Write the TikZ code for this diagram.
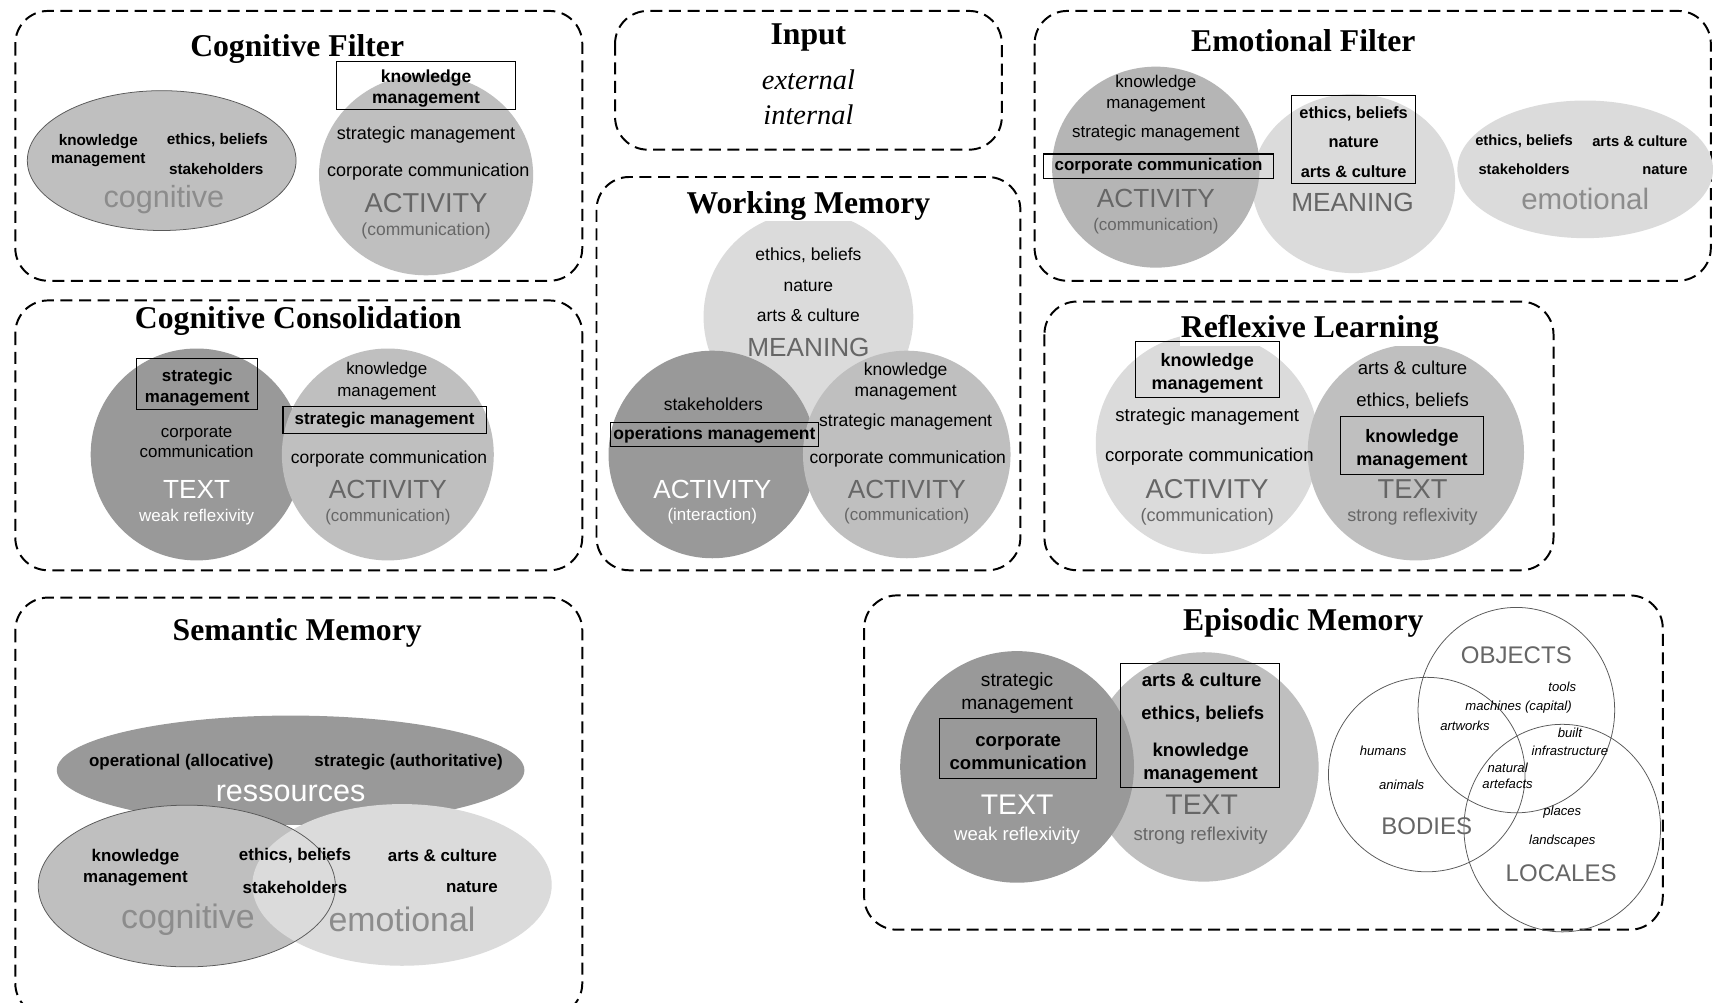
\documentclass[tikz,border=0pt]{standalone}
\usepackage{fontspec}
\setmainfont{Liberation Serif}
\newfontfamily\arialf{Liberation Sans}
\definecolor{dk}{gray}{0.60}
\definecolor{md}{gray}{0.75}
\definecolor{mdd}{gray}{0.71}
\definecolor{lt}{gray}{0.86}
\definecolor{lblA}{gray}{0.40}
\definecolor{lblB}{gray}{0.55}
\definecolor{edge}{gray}{0.35}
\tikzset{
  every node/.style={inner sep=0pt, outer sep=0pt},
  txt/.style 2 args={font=\arialf\fontsize{#1}{#2}\selectfont, align=center},
  bft/.style 2 args={font=\arialf\bfseries\fontsize{#1}{#2}\selectfont, align=center},
  itt/.style 2 args={font=\arialf\itshape\fontsize{#1}{#2}\selectfont, align=center},
  ttl/.style={font=\bfseries\fontsize{29}{32}\selectfont, inner sep=1pt, anchor=base},
  ttlw/.style={ttl, fill=white},
  sit/.style={font=\itshape\fontsize{26}{30}\selectfont},
  fbox/.style={draw=black, line width=1pt, inner sep=0pt},
  grp/.style={draw=black, line width=1.8pt, dash pattern=on 11pt off 6pt, rounded corners=30pt},
  venn/.style={draw=edge, line width=0.7pt},
}
\begin{document}
\begin{tikzpicture}[x=1pt,y=-1pt]
\clip (0,0) rectangle (1568,918);
\fill[white] (0,0) rectangle (1568,918);

% ================= Cognitive Filter =================
\draw[grp] (14,10) rectangle (533,257);
\filldraw[fill=md, draw=edge, line width=0.7pt] (148,147) ellipse [x radius=123pt, y radius=64pt];
\fill[md] (390,160) ellipse [x radius=98pt, y radius=92pt];
\node[ttl] (cft) at (272,52) {Cognitive Filter};
\node[fbox, minimum width=164pt, minimum height=44pt] (cfkmbox) at (390,78) {};
\node[bft={16}{20}] (cfkm) at (390,81) {knowledge\\management};
\node[bft={14}{17}] (cfk) at (90,138) {knowledge\\management};
\node[bft={14}{17}] (cfe) at (199,128) {ethics, beliefs};
\node[bft={14}{17}] (cfs) at (198,155) {stakeholders};
\node[txt={28}{30}, text=lblB] (cfcog) at (150,183) {cognitive};
\node[txt={16.5}{20}] (cfsm) at (390,123) {strategic management};
\node[txt={16.5}{20}] (cfcc) at (392,157) {corporate communication};
\node[txt={25}{28}, text=lblA] (cfact) at (390,186) {ACTIVITY};
\node[txt={16}{19}, text=lblA] (cfcom) at (390,211) {(communication)};

% ================= Input =================
\draw[grp] (563,10) rectangle (917,137);
\node[ttl] (int) at (740,41) {Input};
\node[sit] (inext) at (740,73) {external};
\node[sit] (inint) at (740,105) {internal};

% ================= Emotional Filter =================
\draw[grp] (947,10) rectangle (1566,257);
\fill[lt] (1239,168) ellipse [x radius=93pt, y radius=82pt];
\fill[mdd] (1058,153) ellipse [x radius=95pt, y radius=92pt];
\fill[lt] (1451,155) ellipse [x radius=117pt, y radius=63pt];
\node[ttl] (eft) at (1193,47) {Emotional Filter};
\node[txt={15.5}{19}] (efk) at (1058,86) {knowledge\\management};
\node[txt={15.5}{19}] (efsm) at (1058,122) {strategic management};
\node[fbox, bft={15.5}{19}, minimum width=211pt, minimum height=22pt] (efcc) at (1060.5,152) {corporate communication};
\node[txt={24}{28}, text=lblA] (efact) at (1058,182) {ACTIVITY};
\node[txt={15.5}{19}, text=lblA] (efcom) at (1058,207) {(communication)};
\node[fbox, minimum width=114pt, minimum height=81pt] (efbox) at (1239,127.5) {};
\node[bft={15}{27}] (efboxt) at (1239,130) {ethics, beliefs\\nature\\arts \& culture};
\node[txt={24}{28}, text=lblA] (efmean) at (1238,185) {MEANING};
\node[bft={13.5}{16}] (efe) at (1395,129) {ethics, beliefs};
\node[bft={13.5}{16}] (efa) at (1501,129) {arts \& culture};
\node[bft={13.5}{16}] (efs) at (1395,155) {stakeholders};
\node[bft={13.5}{16}] (efn) at (1524,155) {nature};
\node[txt={27}{30}, text=lblB] (efemo) at (1451,182) {emotional};

% ================= Cognitive Consolidation =================
\draw[grp] (14,275) rectangle (533,522);
\fill[dk] (180,416) circle [radius=97pt];
\fill[md] (355,416) circle [radius=97pt];
\node[ttl] (cct) at (273,301) {Cognitive Consolidation};
\node[fbox, minimum width=111pt, minimum height=47pt] (ccsmbox) at (180.5,351.5) {};
\node[bft={15.5}{19}] (ccsm) at (180.5,354.5) {strategic\\management};
\node[txt={15.5}{18.5}] (cccc) at (180,405) {corporate\\communication};
\node[txt={24}{28}, text=white] (cctext) at (180,448) {TEXT};
\node[txt={15.5}{19}, text=white] (ccweak) at (180,473) {weak reflexivity};
\node[txt={15.5}{20}] (cckm) at (354,349) {knowledge\\management};
\node[fbox, bft={15.5}{19}, minimum width=186pt, minimum height=25pt] (ccsm2) at (352,384.5) {strategic management};
\node[txt={16}{19}] (cccc2) at (356,420) {corporate communication};
\node[txt={24}{28}, text=lblA] (ccact) at (355,448) {ACTIVITY};
\node[txt={15.5}{19}, text=lblA] (cccom) at (355,473) {(communication)};

% ================= Working Memory =================
\draw[grp] (546,162) rectangle (934,522);
\fill[lt] (740,290) circle [radius=96pt];
\fill[dk] (652,416) circle [radius=95pt];
\fill[md] (830,416) circle [radius=95pt];
\node[ttlw] (wmt) at (740,195) {Working Memory};
\node[txt={16}{19}] (wme) at (740,234) {ethics, beliefs};
\node[txt={16}{19}] (wmn) at (740,262) {nature};
\node[txt={16}{19}] (wma) at (740,289) {arts \& culture};
\node[txt={24}{28}, text=lblA] (wmmean) at (740,318) {MEANING};
\node[txt={16}{19}] (wms) at (653,370) {stakeholders};
\node[fbox, bft={16}{19}, minimum width=190pt, minimum height=22pt] (wmom) at (654,398) {operations management};
\node[txt={24}{28}, text=white] (wmact1) at (652,448) {ACTIVITY};
\node[txt={15.5}{19}, text=white] (wmint) at (652,472) {(interaction)};
\node[txt={16}{19}] (wmkm) at (829,349.5) {knowledge\\management};
\node[txt={16}{19}] (wmsm) at (829,386) {strategic management};
\node[txt={16}{19}] (wmcc) at (831,420) {corporate communication};
\node[txt={24}{28}, text=lblA] (wmact2) at (830,448) {ACTIVITY};
\node[txt={15.5}{19}, text=lblA] (wmcom) at (830,472) {(communication)};

% ================= Reflexive Learning =================
\draw[grp] (956,276) rectangle (1422,522);
\fill[lt] (1105,406) ellipse [x radius=102pt, y radius=101pt];
\fill[md] (1296,414) circle [radius=99pt];
\node[ttlw] (rlt) at (1199,309) {Reflexive Learning};
\node[fbox, minimum width=132pt, minimum height=51pt] (rlkmbox) at (1105,338.5) {};
\node[bft={16.5}{21}] (rlkm) at (1105,342) {knowledge\\management};
\node[txt={17}{20}] (rlsm) at (1105,381) {strategic management};
\node[txt={17}{20}] (rlcc) at (1107,418) {corporate communication};
\node[txt={25}{28}, text=lblA] (rlact) at (1105,448) {ACTIVITY};
\node[txt={16.5}{20}, text=lblA] (rlcom) at (1105,473) {(communication)};
\node[txt={17}{20}] (rla) at (1293,337) {arts \& culture};
\node[txt={17}{20}] (rle) at (1293,367) {ethics, beliefs};
\node[fbox, minimum width=131pt, minimum height=53pt] (rlkmbox2) at (1292.5,407.5) {};
\node[bft={16.5}{21}] (rlkm2) at (1292.5,411) {knowledge\\management};
\node[txt={25}{28}, text=lblA] (rltext) at (1293,448) {TEXT};
\node[txt={16.5}{20}, text=lblA] (rlstr) at (1293,473) {strong reflexivity};

% ================= Semantic Memory =================
\draw[grp] (14,547) rectangle (533,930);
\fill[dk] (266,705) ellipse [x radius=214pt, y radius=50pt];
\fill[md] (171,811) ellipse [x radius=136pt, y radius=74pt];
\fill[lt] (368,810) ellipse [x radius=137pt, y radius=74pt];
\draw[edge, line width=0.7pt] (171,811) ellipse [x radius=136pt, y radius=74pt];
\node[ttl] (smt) at (272,586) {Semantic Memory};
\node[bft={15.5}{19}] (smop) at (166,698) {operational (allocative)};
\node[bft={15.5}{19}] (smst) at (374,698) {strategic (authoritative)};
\node[txt={28}{30}, text=white] (smres) at (266,726) {ressources};
\node[bft={15.5}{19}] (smkm) at (124,794.5) {knowledge\\management};
\node[bft={15.5}{19}] (sme) at (270,783) {ethics, beliefs};
\node[bft={15.5}{19}] (sms) at (270,812) {stakeholders};
\node[bft={15.5}{19}] (sma) at (405,783) {arts \& culture};
\node[bft={15.5}{19}] (smn) at (432,812) {nature};
\node[txt={31}{34}, text=lblB] (smcog) at (172,842) {cognitive};
\node[txt={31}{34}, text=lblB] (smemo) at (368,842) {emotional};

% ================= Episodic Memory =================
\draw[grp] (791,545) rectangle (1522,851);
\fill[md] (1102,702) circle [radius=105pt];
\fill[dk] (931,702) ellipse [x radius=107pt, y radius=106pt];
\node[ttl] (emt) at (1193,577) {Episodic Memory};
\node[txt={17.5}{21}] (emsm) at (931,634.5) {strategic\\management};
\node[fbox, minimum width=144pt, minimum height=55pt] (emccbox) at (932,685.5) {};
\node[bft={17}{21}] (emcc) at (932,688) {corporate\\communication};
\node[txt={26}{30}, text=white] (emtext1) at (931,737) {TEXT};
\node[txt={17}{20}, text=white] (emweak) at (931,765) {weak reflexivity};
\node[fbox, minimum width=145pt, minimum height=114pt] (embox) at (1098.5,664) {};
\node[bft={17}{20}] (emac) at (1100,622) {arts \& culture};
\node[bft={17}{20}] (emeb) at (1101,654) {ethics, beliefs};
\node[bft={17}{21}] (emkm) at (1099,698.5) {knowledge\\management};
\node[txt={26}{30}, text=lblA] (emtext2) at (1100,737) {TEXT};
\node[txt={17}{20}, text=lblA] (emstr) at (1099,765) {strong reflexivity};
\draw[venn] (1388,650) ellipse [x radius=90pt, y radius=94pt];
\draw[venn] (1306,709) ellipse [x radius=90pt, y radius=89pt];
\draw[venn] (1430,758) ellipse [x radius=90pt, y radius=95pt];
\node[txt={22}{26}, text=lblA] (emobj) at (1388,600) {OBJECTS};
\node[txt={22}{26}, text=lblA] (embod) at (1306,756) {BODIES};
\node[txt={22}{26}, text=lblA] (emloc) at (1429,799) {LOCALES};
\node[itt={12}{15}] (emtools) at (1430,629) {tools};
\node[itt={12}{15}] (emmach) at (1390,647) {machines (capital)};
\node[itt={12}{15}] (emart) at (1341,664) {artworks};
\node[itt={12}{16}] (embuilt) at (1437,679) {built\\infrastructure};
\node[itt={12}{15}] (emhum) at (1266,687) {humans};
\node[itt={12}{14}] (emnat) at (1380,710) {natural\\artefacts};
\node[itt={12}{15}] (emani) at (1283,718) {animals};
\node[itt={12}{15}] (empla) at (1430,743) {places};
\node[itt={12}{15}] (emland) at (1430,770) {landscapes};
\end{tikzpicture}
\end{document}
